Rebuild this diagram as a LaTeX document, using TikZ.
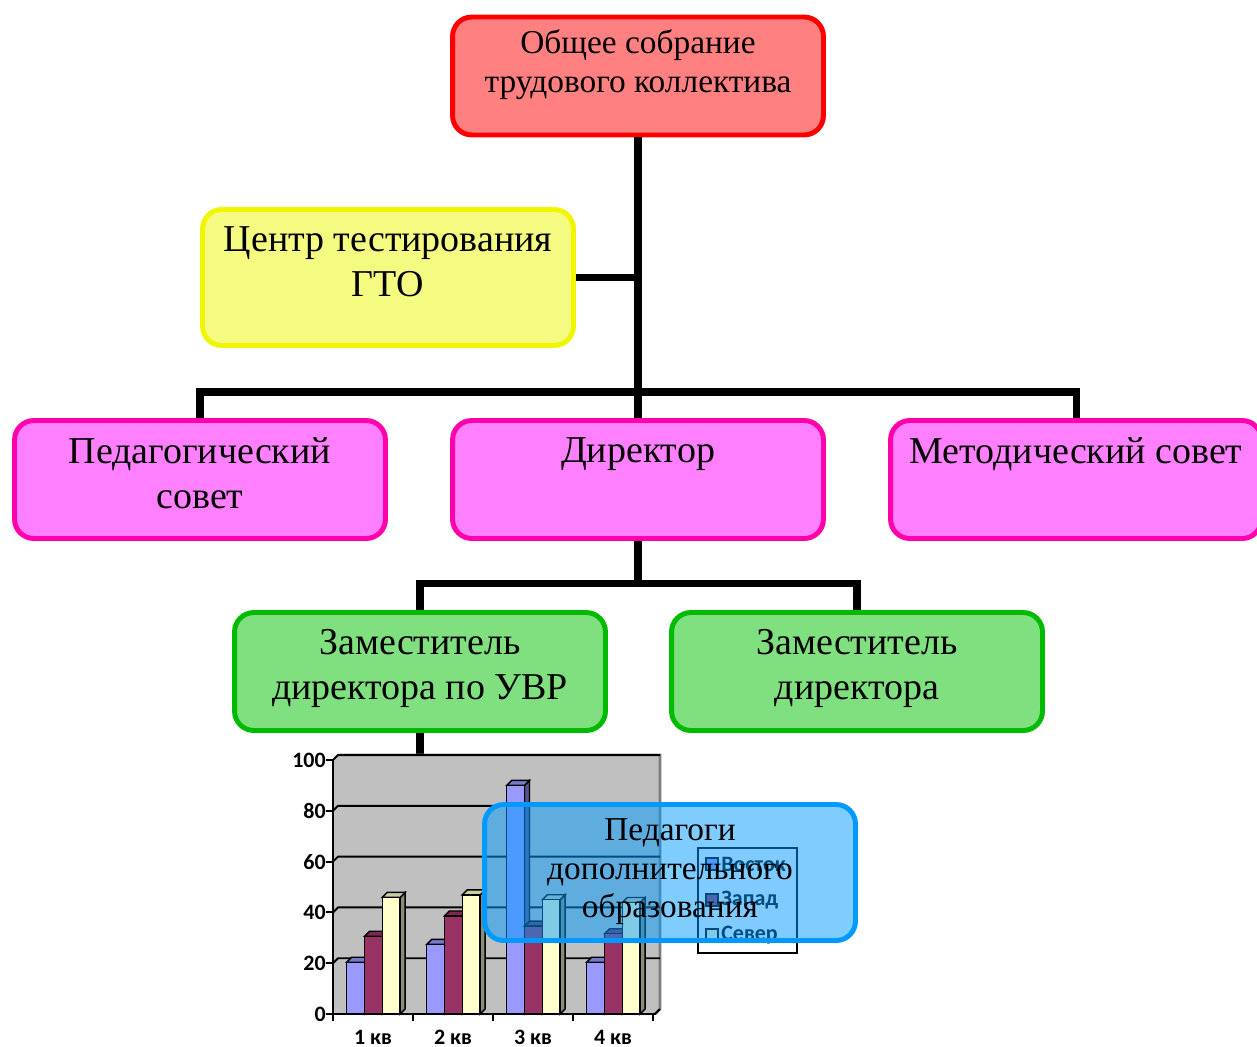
\documentclass[tikz,border=0pt]{standalone}
\usepackage{fontspec}
\setmainfont{Liberation Serif}
\newfontfamily\chartfont{Carlito}
\usetikzlibrary{positioning}
\definecolor{sobrfill}{RGB}{255,128,128}
\definecolor{sobrline}{RGB}{255,0,0}
\definecolor{gtofill}{RGB}{245,250,128}
\definecolor{gtoline}{RGB}{240,245,0}
\definecolor{pinkfill}{RGB}{255,128,255}
\definecolor{pinkline}{RGB}{255,0,170}
\definecolor{zamfill}{RGB}{128,224,128}
\definecolor{zamline}{RGB}{0,187,0}
\definecolor{pdoblue}{RGB}{0,153,255}
\definecolor{wallgray}{RGB}{192,192,192}
\definecolor{vostok}{RGB}{153,153,255}
\definecolor{zapad}{RGB}{153,51,102}
\definecolor{sever}{RGB}{255,255,204}

\begin{document}
\begin{tikzpicture}[
  x=0.02cm, y=-0.02cm,
  box/.style={draw,rounded corners=11pt,line width=2.8pt,minimum width=7.42cm,minimum height=2.36cm,inner sep=0pt},
  tallbox/.style={box,minimum height=2.72cm},
  sobr/.style={box,fill=sobrfill,draw=sobrline},
  gto/.style={tallbox,fill=gtofill,draw=gtoline},
  pink/.style={box,fill=pinkfill,draw=pinkline},
  zam/.style={box,fill=zamfill,draw=zamline},
  pdo/.style={tallbox,fill=pdoblue,fill opacity=0.5,draw=pdoblue},
  big/.style={anchor=north,align=center,inner sep=0pt,yshift=-11pt,font=\fontsize{21.6}{25.5}\selectfont},
  small/.style={anchor=north,align=center,inner sep=0pt,yshift=-8.5pt,text opacity=1,font=\fontsize{19}{21.8}\selectfont},
  conn/.style={line width=4pt},
  grid/.style={line width=1.1pt},
  bar/.style={line width=0.8pt},
  axis/.style={line width=1.1pt},
  tick/.style={inner sep=0pt,font=\chartfont\bfseries\fontsize{12.5}{14}\selectfont},
]
  \useasboundingbox (0,0) rectangle (1257,1046);

  % boxes
  \node[sobr,label={[small]north:{Общее собрание\\трудового коллектива}}] (sobr) at (638,76) {};
  \node[gto,label={[big]north:{Центр тестирования\\ГТО}}] (gto) at (388,277.5) {};
  \node[pink,label={[big]north:{Педагогический\\совет}}] (ps) at (200,479.5) {};
  \node[pink,label={[big]north:{Директор}}] (dir) at (638,479.5) {};
  \node[pink,label={[big]north:{Методический совет}}] (ms) at (1076,479.5) {};
  \node[zam,label={[big]north:{Заместитель\\директора по УВР}}] (zuvr) at (420,671.5) {};
  \node[zam,label={[big]north:{Заместитель\\директора}}] (zd) at (857,671.5) {};

  % connectors
  \coordinate (bus1) at (638,392);
  \coordinate (bus2) at (638,583);
  \coordinate (pdowest) at (484,872.5);
  \draw[conn] (sobr.south) -- (dir.north);
  \draw[conn] (gto.east) -- (gto.east -| sobr.south);
  \draw[conn] (ps.north) |- (bus1) -| (ms.north);
  \draw[conn] (dir.south) -- (bus2);
  \draw[conn] (zuvr.north) |- (bus2) -| (zd.north);
  \draw[conn] (zuvr.south) |- (pdowest);

  % chart
  \fill[wallgray] (333,760) -- (338,755) -- (338,1009) -- (333,1014) -- cycle;
  \fill[wallgray] (338,755) rectangle (660,1009);
  \fill[wallgray] (333,1014) -- (338,1009) -- (660,1009) -- (655,1014) -- cycle;
  \draw[wallgray!65!black,line width=1.5pt] (338,755) -- (660,755) -- (660,1009) -- (655,1014);
  \foreach \v in {20,40,...,100}
    \draw[grid] (333,{1014-2.54*\v}) -- (338,{1009-2.54*\v}) -- (660,{1009-2.54*\v});
  \foreach \g/\a/\b/\c in {0/20.4/30.6/45.9,1/27.4/38.6/46.9,2/90/34.6/45,3/20.4/31.6/43.9}
    \foreach \s/\v/\col in {0/\a/vostok,1/\b/zapad,2/\c/sever} {
      \draw[bar,fill=\col!55!black] ({364.5+80*\g+17.8*\s},1014) -- ({364.5+80*\g+17.8*\s},{1014-2.54*\v})
        -- ({369.5+80*\g+17.8*\s},{1009-2.54*\v}) -- ({369.5+80*\g+17.8*\s},1009) -- cycle;
      \draw[bar,fill=\col!80!black] ({346.7+80*\g+17.8*\s},{1014-2.54*\v}) -- ({351.7+80*\g+17.8*\s},{1009-2.54*\v})
        -- ({369.5+80*\g+17.8*\s},{1009-2.54*\v}) -- ({364.5+80*\g+17.8*\s},{1014-2.54*\v}) -- cycle;
      \draw[bar,fill=\col] ({346.7+80*\g+17.8*\s},1014) rectangle ({364.5+80*\g+17.8*\s},{1014-2.54*\v});
    }
  \draw[axis] (333,760) -- (333,1014) -- (655,1014) -- (660,1009);
  \foreach \v in {0,20,...,100} {
    \draw[axis] (326,{1014-2.54*\v}) -- (333,{1014-2.54*\v});
    \node[tick,anchor=east] (yl\v) at (326,{1014-2.54*\v}) {\v};
  }
  \foreach \i in {0,...,4}
    \draw[axis] ({333+80*\i},1014) -- ({333+80*\i},1021);
  \foreach \i in {1,...,4}
    \node[tick] (xl\i) at ({293+80*\i},1037) {\i\ кв};

  % legend
  \draw[line width=1pt,fill=white] (698,848) rectangle (797,953);
  \foreach \n/\col/\yy [count=\k] in {Восток/vostok/864,Запад/zapad/900,Север/sever/935} {
    \draw[line width=0.8pt,fill=\col] (706,{\yy-6}) rectangle (718,{\yy+6});
    \node[tick,anchor=west] (leg\k) at (721,\yy) {\n};
  }

  % overlay box
  \node[pdo,label={[small,yshift=-1pt]north:{Педагоги\\дополнительного\\образования}}] (pdo) at (670,872.5) {};
\end{tikzpicture}
\end{document}
